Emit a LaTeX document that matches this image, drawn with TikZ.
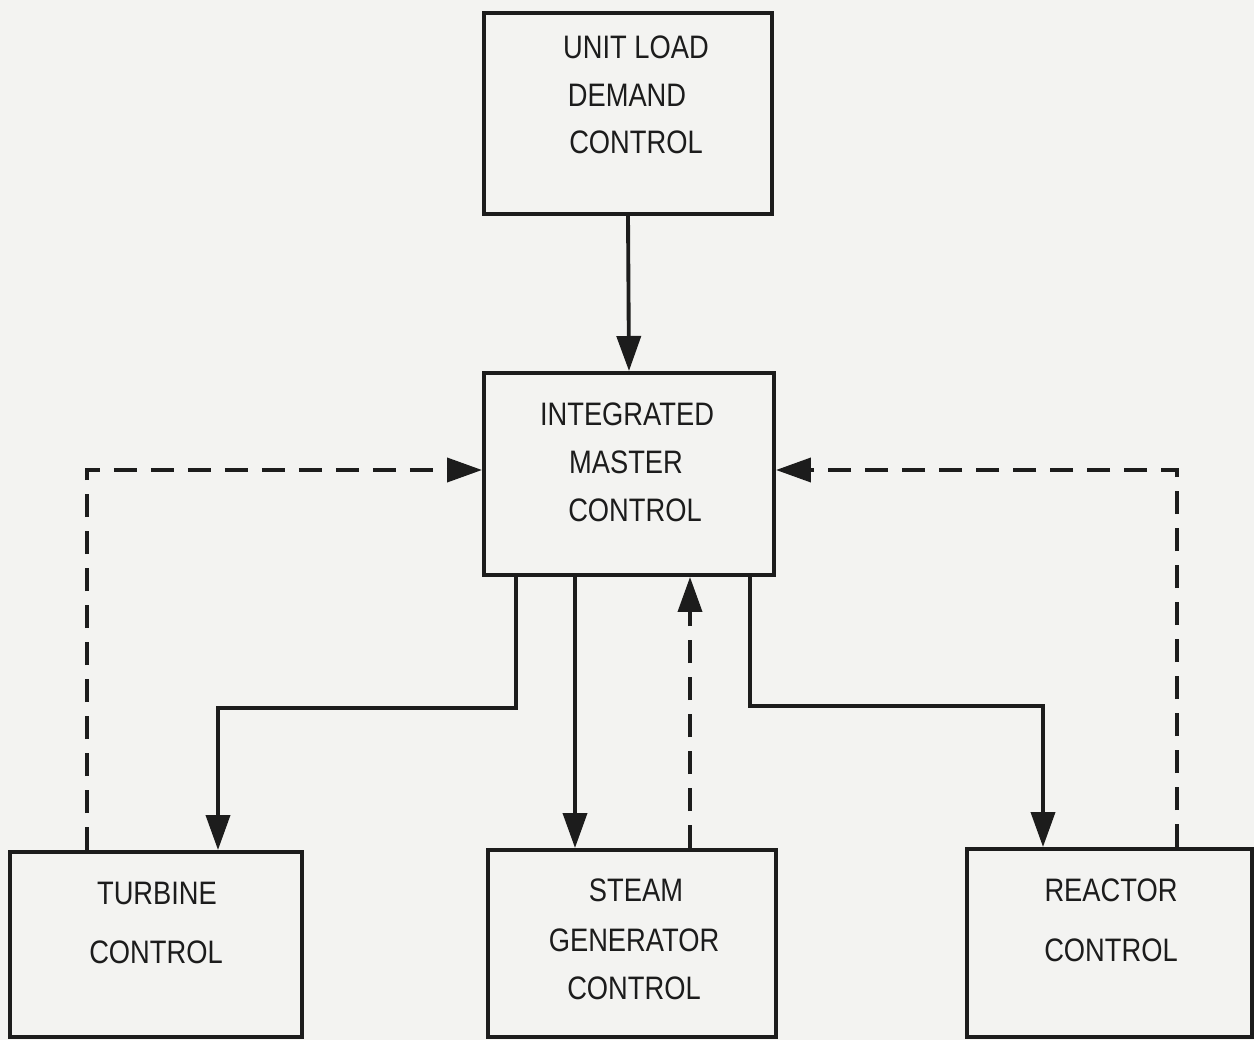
\documentclass[tikz,border=0pt]{standalone}
\usepackage{fontspec}
\newfontfamily\plotfont[FakeStretch=0.84]{Liberation Sans}
\usetikzlibrary{arrows.meta}
\definecolor{ink}{HTML}{1C1C1C}
\definecolor{paper}{HTML}{F3F3F1}
\tikzset{
  blk/.style={draw=ink, line width=2.3pt, fill=none, inner sep=0pt},
  lbl/.style={text=ink, font=\plotfont\fontsize{18.5}{21}\selectfont, inner sep=0pt, anchor=center},
  arr/.style={draw=ink, line width=2.2pt, -{Triangle[length=0.7cm,width=0.48cm]}},
  darr/.style={arr, dash pattern=on 0.46cm off 0.28cm},
}
\begin{document}
\begin{tikzpicture}[x=0.02cm,y=-0.02cm]
\fill[paper] (0,0) rectangle (1254,1040);
\useasboundingbox (0,0) rectangle (1254,1040);
\begin{scope}
\clip (0,0) rectangle (1254,1040);
% boxes
\node[blk, minimum width=5.76cm, minimum height=4.02cm] (uld) at (628,113.5) {};
\node[blk, minimum width=5.80cm, minimum height=4.04cm] (imc) at (629,474) {};
\node[blk, minimum width=5.84cm, minimum height=3.70cm] (turb) at (156,944.5) {};
\node[blk, minimum width=5.76cm, minimum height=3.74cm] (steam) at (632,943.5) {};
\node[blk, minimum width=5.70cm, minimum height=3.76cm] (reac) at (1109.5,943) {};
\end{scope}
% texts
\node[lbl] (u1) at (636,47) {UNIT LOAD};
\node[lbl] (u2) at (627,95) {DEMAND};
\node[lbl] (u3) at (636,142) {CONTROL};
\node[lbl] (m1) at (627,414) {INTEGRATED};
\node[lbl] (m2) at (626,462) {MASTER};
\node[lbl] (m3) at (635,510) {CONTROL};
\node[lbl] (t1) at (157,893) {TURBINE};
\node[lbl] (t2) at (156,952) {CONTROL};
\node[lbl] (s1) at (636,890) {STEAM};
\node[lbl] (s2) at (634,940) {GENERATOR};
\node[lbl] (s3) at (634,988) {CONTROL};
\node[lbl] (r1) at (1111,890) {REACTOR};
\node[lbl] (r2) at (1111,950) {CONTROL};
% routing points
\coordinate (ta) at (516,708);
\coordinate (tb) at (218,708);
\coordinate (sa) at (575,0);
\coordinate (sb) at (690,0);
\coordinate (ra) at (750,706);
\coordinate (rb) at (1043,706);
\coordinate (la) at (87,470);
\coordinate (rc) at (1177,470);
% connectors
\draw[arr] (uld.south) -- (imc.north);
\draw[arr] (imc.south -| ta) -- (ta) -- (tb) -- (turb.north -| tb);
\draw[arr] (imc.south -| sa) -- (steam.north -| sa);
\draw[darr] (steam.north -| sb) -- (imc.south -| sb);
\draw[arr] (imc.south -| ra) -- (ra) -- (rb) -- (reac.north -| rb);
\draw[darr] (turb.north -| la) -- (la) -- (imc.west |- la);
\draw[darr] (reac.north -| rc) -- (rc) -- (imc.east |- rc);
\end{tikzpicture}
\end{document}
